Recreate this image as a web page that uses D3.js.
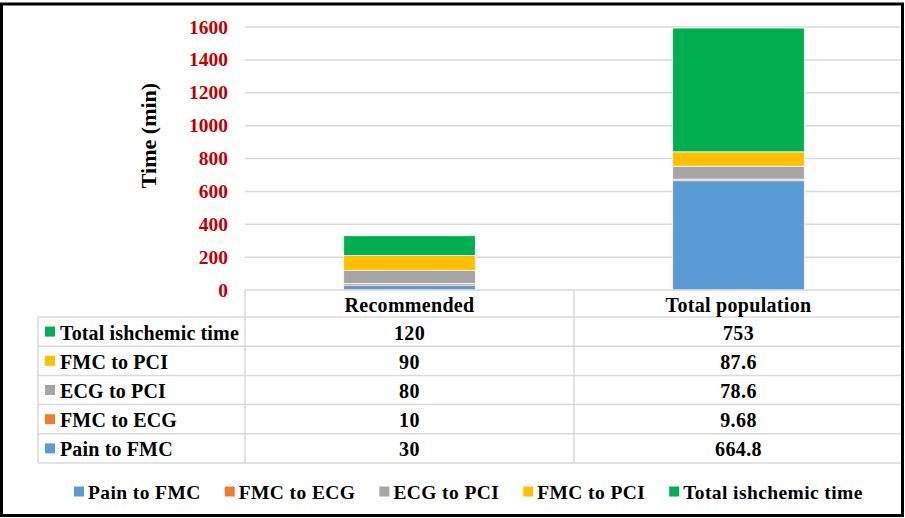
<!DOCTYPE html>
<html>
<head>
<meta charset="utf-8">
<script src="https://cdn.jsdelivr.net/npm/d3@7"></script>
<style>
  html, body { margin: 0; padding: 0; background: #fff; }
  svg { display: block; }
</style>
</head>
<body>
<svg id="chart" width="905" height="518"></svg>
<script>
// ---- data ----
const categories = ["Recommended", "Total population"];
const seriesNames = ["Pain to FMC", "FMC to ECG", "ECG to PCI", "FMC to PCI", "Total ishchemic time"];
const seriesColors = ["#5B9BD5", "#ED7D31", "#A5A5A5", "#FFC000", "#00B050"];
const painToFMC = [30, 664.8];
const fmcToECG = [10, 9.68];
const ecgToPCI = [80, 78.6];
const fmcToPCI = [90, 87.6];
const totalIschemic = [120, 753];
const valueLabels = {
  "Pain to FMC": ["30", "664.8"],
  "FMC to ECG": ["10", "9.68"],
  "ECG to PCI": ["80", "78.6"],
  "FMC to PCI": ["90", "87.6"],
  "Total ishchemic time": ["120", "753"]
};
const yTicks = [0, 200, 400, 600, 800, 1000, 1200, 1400, 1600];
const yTitle = "Time (min)";

// ---- build table for stacking ----
const seriesValues = [painToFMC, fmcToECG, ecgToPCI, fmcToPCI, totalIschemic];
const rows = categories.map((c, i) => {
  const o = { category: c };
  seriesNames.forEach((s, k) => o[s] = seriesValues[k][i]);
  return o;
});

const FONT = "Liberation Serif";
const svg = d3.select("#chart");
const plotLeft = 245, plotRight = 903, plotTop = 27, plotBottom = 290;
const gridColor = "#D9D9D9";

const x = d3.scaleBand().domain(categories).range([plotLeft, plotRight]).paddingInner(0).paddingOuter(0);
const y = d3.scaleLinear().domain([0, 1600]).range([plotBottom, plotTop]);
const color = d3.scaleOrdinal().domain(seriesNames).range(seriesColors);

function txt(g) {
  return g.append("text").attr("font-family", FONT).attr("font-weight", "bold").attr("fill", "#000");
}

// gridlines
svg.append("g").selectAll("line").data(yTicks.filter(t => t > 0)).join("line")
  .attr("x1", plotLeft).attr("x2", plotRight)
  .attr("y1", d => y(d)).attr("y2", d => y(d))
  .attr("stroke", gridColor).attr("stroke-width", 1.5);

// y tick labels
svg.append("g").selectAll("text").data(yTicks).join("text")
  .attr("font-family", FONT).attr("font-weight", "bold")
  .attr("x", 228).attr("y", d => y(d))
  .attr("text-anchor", "end").attr("dominant-baseline", "central")
  .attr("fill", "#C00000").attr("font-size", "19.5px")
  .text(d => d);

// y title
txt(svg)
  .attr("transform", `translate(148,${(plotTop + plotBottom) / 2 - 23}) rotate(-90)`)
  .attr("text-anchor", "middle").attr("dominant-baseline", "central")
  .attr("font-size", "22px")
  .text(yTitle);

// stacked bars
const stack = d3.stack().keys(seriesNames)(rows);
const barW = x.bandwidth() * 0.4;
svg.append("g").selectAll("g").data(stack).join("g")
  .attr("fill", d => color(d.key))
  .selectAll("rect").data(d => d).join("rect")
  .attr("x", d => x(d.data.category) + (x.bandwidth() - barW) / 2)
  .attr("width", barW)
  .attr("y", d => y(d[1]))
  .attr("height", d => y(d[0]) - y(d[1]))
  .attr("stroke", "#fff").attr("stroke-width", 0.75);

// ---- data table ----
const tableLeft = 38, headerBottom = 317, rowH = 29.2;
const tableRows = seriesNames.slice().reverse();
const tableBottom = headerBottom + rowH * tableRows.length;
const tg = svg.append("g");
tg.append("line").attr("x1", plotLeft).attr("x2", plotRight).attr("y1", plotBottom).attr("y2", plotBottom)
  .attr("stroke", gridColor).attr("stroke-width", 1.5);
d3.range(tableRows.length + 1).forEach(i => {
  const yy = headerBottom + i * rowH;
  tg.append("line").attr("x1", tableLeft).attr("x2", plotRight).attr("y1", yy).attr("y2", yy)
    .attr("stroke", gridColor).attr("stroke-width", 1.5);
});
tg.append("line").attr("x1", tableLeft).attr("x2", tableLeft).attr("y1", headerBottom).attr("y2", tableBottom)
  .attr("stroke", gridColor).attr("stroke-width", 1.5);
categories.concat([null]).forEach(c => {
  const xx = c ? x(c) : plotRight;
  tg.append("line").attr("x1", xx).attr("x2", xx).attr("y1", plotBottom).attr("y2", tableBottom)
    .attr("stroke", gridColor).attr("stroke-width", 1.5);
});
categories.forEach(c => {
  txt(tg).attr("x", x(c) + x.bandwidth() / 2).attr("y", (plotBottom + headerBottom) / 2 + 1)
    .attr("text-anchor", "middle").attr("dominant-baseline", "central")
    .attr("font-size", "20px").attr("letter-spacing", "0.3px").text(c);
});
tableRows.forEach((s, i) => {
  const cy = headerBottom + i * rowH + rowH / 2;
  tg.append("rect").attr("x", 45).attr("y", cy - 5).attr("width", 10).attr("height", 10).attr("fill", color(s));
  txt(tg).attr("x", 60).attr("y", cy + 1).attr("dominant-baseline", "central")
    .attr("font-size", "20px").attr("letter-spacing", "0.15px").text(s);
  categories.forEach((c, j) => {
    txt(tg).attr("x", x(c) + x.bandwidth() / 2).attr("y", cy + 1)
      .attr("text-anchor", "middle").attr("dominant-baseline", "central")
      .attr("font-size", "20px").attr("letter-spacing", "0.4px").text(valueLabels[s][j]);
  });
});

// ---- bottom legend ----
const lg = svg.append("g");
let lx = 74;
const ly = 491.5;
seriesNames.forEach(s => {
  lg.append("rect").attr("x", lx).attr("y", ly - 5).attr("width", 10).attr("height", 10).attr("fill", color(s));
  const t = txt(lg).attr("x", lx + 14).attr("y", ly + 1).attr("dominant-baseline", "central")
    .attr("font-size", "19.5px").attr("letter-spacing", "0.4px").text(s);
  lx += 14 + t.node().getComputedTextLength() + 24;
});

// outer border
svg.append("rect").attr("x", 1.5).attr("y", 4).attr("width", 901).attr("height", 511.5)
  .attr("fill", "none").attr("stroke", "#000").attr("stroke-width", 3);
</script>
</body>
</html>
